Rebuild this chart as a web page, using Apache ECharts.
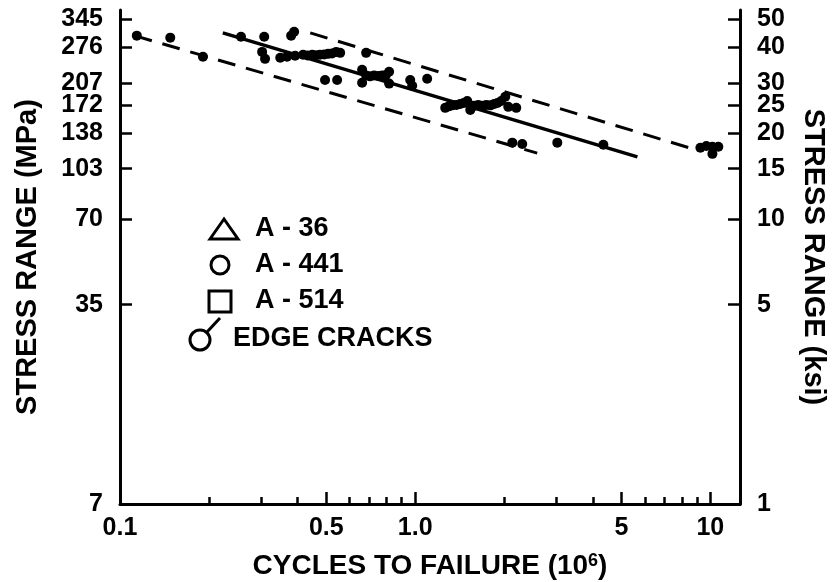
<!DOCTYPE html>
<html>
<head>
<meta charset="utf-8">
<script src="https://cdn.jsdelivr.net/npm/echarts@6/dist/echarts.min.js"></script>
<style>
  html, body { margin: 0; padding: 0; background: #fff; }
  #chart { width: 833px; height: 582px; }
</style>
</head>
<body>
<div id="chart"></div>
<script>
// Axis ticks and labels
const xTickValues = [0.1, 0.5, 1, 5, 10];
const xTickLabels = ['0.1', '0.5', '1.0', '5', '10'];
const xMinorTicks = [0.2, 0.3, 0.4, 0.6, 0.7, 0.8, 0.9, 2, 3, 4, 6, 7, 8, 9];
const ksiTicks = [1, 5, 10, 15, 20, 25, 30, 40, 50];
const mpaTicks = [7, 35, 70, 103, 138, 172, 207, 276, 345];

// Test results: cycles to failure (millions) and stress range (ksi)
const testCycles = [
  0.114, 0.148, 0.191, 0.257, 0.308, 0.380, 0.389, 0.303, 0.310, 0.349,
  0.368, 0.392, 0.417, 0.432, 0.448, 0.462, 0.476, 0.492, 0.507, 0.523, 0.540, 0.557, 0.682,
  0.495, 0.544,
  0.661, 0.661, 0.682, 0.703, 0.726, 0.750, 0.773, 0.795, 0.816, 0.816,
  0.962, 0.977, 1.098,
  1.264, 1.300, 1.335, 1.380, 1.421, 1.460, 1.501, 1.537, 1.580, 1.635, 1.690, 1.741,
  1.800, 1.853, 1.900, 1.956, 2.019, 2.067, 2.200,
  2.133, 2.305, 3.03, 4.34,
  9.25, 9.69, 10.16, 10.64, 10.16
];
const testStress = [
  43.9, 43.2, 37.0, 43.5, 43.5, 43.9, 45.3, 38.5, 36.4, 36.7,
  37.0, 37.3, 37.6, 37.4, 37.6, 37.5, 37.6, 37.7, 37.9, 38.0, 38.5, 38.2, 38.2,
  30.7, 30.7,
  33.3, 30.0, 31.8, 31.6, 31.8, 31.7, 31.8, 31.9, 32.8, 29.8,
  30.7, 29.3, 31.0,
  24.5, 24.8, 25.0, 25.1, 25.3, 25.5, 25.9, 24.1, 24.9, 25.1, 24.9, 25.1,
  25.0, 25.3, 25.5, 25.9, 26.8, 24.7, 24.5,
  18.5, 18.3, 18.5, 18.2,
  17.75, 18.0, 17.9, 17.9, 16.9
];

// Regression line and confidence limits (cycles, ksi)
const meanLine = [[0.223, 44.9], [5.66, 16.5]];
const upperLimit = [[0.441, 44.9], [8.55, 17.7]];
const lowerLimit = [[0.112, 43.9], [2.59, 17.0]];

const FONT = '"Liberation Sans", Arial, Helvetica, sans-serif';
const INK = '#000';

function lookup(values, labels, v) {
  let best = 0;
  for (let i = 1; i < values.length; i++) {
    if (Math.abs(Math.log(values[i] / v)) < Math.abs(Math.log(values[best] / v))) best = i;
  }
  return String(labels[best]);
}

const tickFont = { fontFamily: FONT, fontWeight: 'bold', fontSize: 25, color: INK };
const nameFont = { fontFamily: FONT, fontWeight: 'bold', fontSize: 29, color: INK };
const keyFont = 'bold 27px ' + FONT;

const chart = echarts.init(document.getElementById('chart'), null, { renderer: 'canvas' });

chart.setOption({
  animation: false,
  backgroundColor: '#fff',
  grid: { left: 120, right: 93, top: 10, bottom: 78, outerBoundsMode: 'none', containLabel: false },
  xAxis: [
    {
      type: 'log', logBase: 10, min: 0.1, max: 12.6, position: 'bottom',
      axisLine: { show: true, lineStyle: { color: INK, width: 3 } },
      axisTick: { show: true, inside: true, length: 12, customValues: xTickValues,
                  lineStyle: { color: INK, width: 2.5 } },
      axisLabel: Object.assign({ show: true, margin: 12, customValues: xTickValues,
                  formatter: v => lookup(xTickValues, xTickLabels, v) }, tickFont),
      splitLine: { show: false },
      name: '{a|CYCLES TO FAILURE (10}{s|6}{a|)}',
      nameLocation: 'middle', nameGap: 48,
      nameTextStyle: {
        rich: {
          a: { fontFamily: FONT, fontWeight: 'bold', fontSize: 28, color: INK },
          s: { fontFamily: FONT, fontWeight: 'bold', fontSize: 18, color: INK, verticalAlign: 'top' }
        }
      }
    },
    {
      type: 'log', logBase: 10, min: 0.1, max: 12.6, position: 'bottom',
      axisLine: { show: false },
      axisTick: { show: true, inside: true, length: 7, customValues: xMinorTicks,
                  lineStyle: { color: INK, width: 2.5 } },
      axisLabel: { show: false },
      splitLine: { show: false }
    }
  ],
  yAxis: [
    {
      type: 'log', logBase: 10, min: 1, max: 54, position: 'left',
      axisLine: { show: true, lineStyle: { color: INK, width: 3 } },
      axisTick: { show: true, inside: true, length: 12, customValues: ksiTicks,
                  lineStyle: { color: INK, width: 2.5 } },
      axisLabel: Object.assign({ show: true, margin: 17, customValues: ksiTicks,
                  formatter: v => lookup(ksiTicks, mpaTicks, v) }, tickFont),
      splitLine: { show: false },
      name: 'STRESS RANGE (MPa)', nameLocation: 'middle', nameRotate: 90, nameGap: 78,
      nameTextStyle: nameFont
    },
    {
      type: 'log', logBase: 10, min: 1, max: 54, position: 'right',
      axisLine: { show: true, lineStyle: { color: INK, width: 3 } },
      axisTick: { show: true, inside: true, length: 12, customValues: ksiTicks,
                  lineStyle: { color: INK, width: 2.5 } },
      axisLabel: Object.assign({ show: true, margin: 17, customValues: ksiTicks,
                  formatter: v => lookup(ksiTicks, ksiTicks, v) }, tickFont),
      splitLine: { show: false },
      name: 'STRESS RANGE (ksi)', nameLocation: 'middle', nameRotate: -90, nameGap: 58,
      nameTextStyle: nameFont
    }
  ],
  series: [
    {
      name: 'Upper limit', type: 'line', xAxisIndex: 0, yAxisIndex: 1,
      data: upperLimit, symbol: 'none', silent: true,
      lineStyle: { color: INK, width: 3, type: [18, 11] }
    },
    {
      name: 'Lower limit', type: 'line', xAxisIndex: 0, yAxisIndex: 1,
      data: lowerLimit, symbol: 'none', silent: true,
      lineStyle: { color: INK, width: 3, type: [18, 11] }
    },
    {
      name: 'Mean', type: 'line', xAxisIndex: 0, yAxisIndex: 1,
      data: meanLine, symbol: 'none', silent: true,
      lineStyle: { color: INK, width: 3.5, type: 'solid' }
    },
    {
      name: 'Test results', type: 'scatter', xAxisIndex: 0, yAxisIndex: 1,
      data: testCycles.map((c, i) => [c, testStress[i]]),
      symbol: 'circle', symbolSize: 10,
      itemStyle: { color: INK, opacity: 1 }
    }
  ],
  // Key for steel grades and edge-crack marker
  graphic: [
    { type: 'polygon', shape: { points: [[210, 239], [224, 219], [238, 239]] },
      style: { fill: 'none', stroke: INK, lineWidth: 3 } },
    { type: 'circle', shape: { cx: 220, cy: 265, r: 9 },
      style: { fill: 'none', stroke: INK, lineWidth: 3 } },
    { type: 'rect', shape: { x: 209, y: 291, width: 22, height: 21 },
      style: { fill: 'none', stroke: INK, lineWidth: 3 } },
    { type: 'circle', shape: { cx: 200, cy: 340, r: 10 },
      style: { fill: 'none', stroke: INK, lineWidth: 3 } },
    { type: 'line', shape: { x1: 207, y1: 332, x2: 220, y2: 318 },
      style: { stroke: INK, lineWidth: 3 } },
    { type: 'text', x: 255, y: 229,
      style: { text: 'A - 36', fill: INK, font: keyFont, verticalAlign: 'middle' } },
    { type: 'text', x: 255, y: 265,
      style: { text: 'A - 441', fill: INK, font: keyFont, verticalAlign: 'middle' } },
    { type: 'text', x: 255, y: 301,
      style: { text: 'A - 514', fill: INK, font: keyFont, verticalAlign: 'middle' } },
    { type: 'text', x: 233, y: 339,
      style: { text: 'EDGE CRACKS', fill: INK, font: keyFont, verticalAlign: 'middle' } }
  ]
});
</script>
</body>
</html>
